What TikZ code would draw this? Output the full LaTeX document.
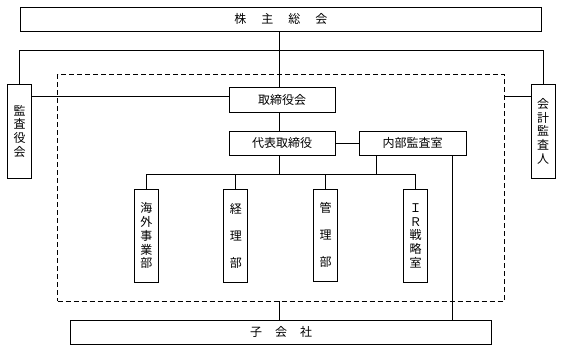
\documentclass[tikz,border=0pt]{standalone}
\usepackage{fontspec}
\newfontfamily\cjk{Noto Sans CJK JP}
\begin{document}
\begin{tikzpicture}[x=1pt,y=-1pt,line width=0.9pt,
  box/.style={draw, line width=0.9pt, inner sep=0pt, align=center,
    font=\cjk\fontsize{12}{13.8}\selectfont},
  hbox/.style={box, minimum width=106pt, minimum height=24pt},
  vbox/.style={box, minimum width=24pt, minimum height=93pt},
  frame/.style={draw, dash pattern=on 5pt off 3pt, line width=0.9pt, inner sep=0pt},
  conn/.style={line width=0.9pt}]
\useasboundingbox (0,0) rectangle (561,351);
% nodes
\node[box, minimum width=521.7pt, minimum height=23.7pt] (sh) at (280.8,19.2)
  {株\hspace{15pt}主\hspace{15pt}総\hspace{15pt}会};
\node[frame, minimum width=446.5pt, minimum height=227pt] (fr) at (280.75,187.5) {};
\node[box, minimum width=24.4pt, minimum height=94pt] (ka) at (19.5,131.3) {監\\査\\役\\会};
\node[box, minimum width=24pt, minimum height=94pt] (kk) at (543,131.2) {会\\計\\監\\査\\人};
\node[hbox, minimum height=24.8pt] (tb) at (282,99.9) {取締役会};
\node[hbox] (dh) at (282,143) {代表取締役};
\node[hbox, minimum width=107pt] (nb) at (412.5,143) {内部監査室};
\node[vbox] (d1) at (146.3,235.7) {海\\外\\事\\業\\部};
\node[vbox] (d2) at (235.8,235.7) {経\\[13pt]理\\[13pt]部};
\node[vbox, minimum height=92pt] (d3) at (325.7,235) {管\\[13pt]理\\[13pt]部};
\node[vbox] (d4) at (415.5,235.7) {Ｉ\\Ｒ\\戦\\略\\室};
\node[box, minimum width=421pt, minimum height=23.3pt] (ko) at (281.2,332.3)
  {子\hspace{13pt}会\hspace{13pt}社};
% helper coordinates
\coordinate (mx) at (279.6,0);
\coordinate (top) at (0,50);
\coordinate (ly) at (0,96);
\coordinate (bus) at (0,174.3);
\coordinate (rx) at (452.3,0);
\coordinate (nx) at (376.7,0);
% connectors
\draw[conn] (sh.south -| mx) -- (tb.north -| mx);
\draw[conn] (ka.north) -- (ka.north |- top) -- (kk.north |- top) -- (kk.north);
\draw[conn] (ka.east |- ly) -- (tb.west |- ly);
\draw[conn] (fr.east |- ly) -- (kk.west |- ly);
\draw[conn] (tb.south -| mx) -- (dh.north -| mx);
\draw[conn] (dh.east) -- (nb.west);
\draw[conn] (dh.south -| mx) -- (mx |- bus);
\draw[conn] (nb.south -| nx) -- (nx |- bus);
\draw[conn] (d1.north |- bus) -- (d4.north |- bus);
\draw[conn] (d1.north |- bus) -- (d1.north);
\draw[conn] (d2.north |- bus) -- (d2.north);
\draw[conn] (d3.north |- bus) -- (d3.north);
\draw[conn] (d4.north |- bus) -- (d4.north);
\draw[conn] (nb.south -| rx) -- (ko.north -| rx);
\draw[conn] (fr.south -| mx) -- (ko.north -| mx);
\end{tikzpicture}
\end{document}
